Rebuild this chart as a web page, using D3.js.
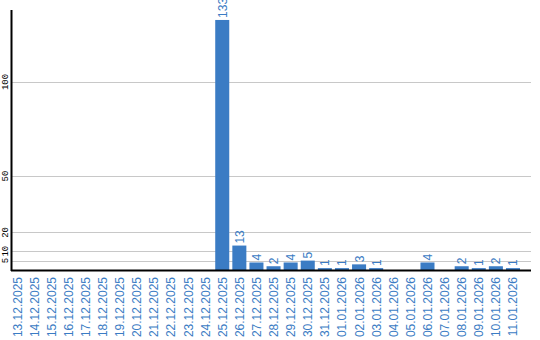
<!DOCTYPE html>
<html>
<head>
<meta charset="utf-8">
<script src="https://cdn.jsdelivr.net/npm/d3@7"></script>
<style>
  body { margin: 0; background: #fff; }
  svg { display: block; }
</style>
</head>
<body>
<svg id="chart" width="540" height="340"></svg>
<script>
var dates = ["13.12.2025", "14.12.2025", "15.12.2025", "16.12.2025", "17.12.2025", "18.12.2025",
             "19.12.2025", "20.12.2025", "21.12.2025", "22.12.2025", "23.12.2025", "24.12.2025",
             "25.12.2025", "26.12.2025", "27.12.2025", "28.12.2025", "29.12.2025", "30.12.2025",
             "31.12.2025", "01.01.2026", "02.01.2026", "03.01.2026", "04.01.2026", "05.01.2026",
             "06.01.2026", "07.01.2026", "08.01.2026", "09.01.2026", "10.01.2026", "11.01.2026"];
var counts = [0, 0, 0, 0, 0, 0, 0, 0, 0, 0, 0, 0,
              133, 13, 4, 2, 4, 5, 1, 1, 3, 1, 0, 0, 4, 0, 2, 1, 2, 1];
var yTicks = [5, 10, 20, 50, 100];

(function drawChart() {
    var svg = d3.select("#chart"),
        blue = "#3b7cc4";

    var left = 11, right = 531, top = 10, bottom = 270;

    var x = d3.scaleBand()
              .domain(dates)
              .range([10, 520])
              .paddingInner(0.18)
              .paddingOuter(0);

    var y = d3.scaleLinear()
              .domain([0, 138.3])
              .range([bottom, top]);

    // grid lines
    svg.append("g").selectAll("line")
       .data(yTicks)
       .enter().append("line")
       .attr("x1", left).attr("x2", right)
       .attr("y1", function(d) { return Math.round(y(d)) + 0.5; })
       .attr("y2", function(d) { return Math.round(y(d)) + 0.5; })
       .attr("stroke", "#c8c8c8")
       .attr("stroke-width", 1);

    // y tick labels (rotated)
    svg.append("g").selectAll("text")
       .data(yTicks)
       .enter().append("text")
       .attr("transform", function(d) { return "translate(8," + y(d) + ") rotate(-90)"; })
       .attr("text-anchor", "middle")
       .style("font-family", "'Liberation Mono', 'DejaVu Sans Mono', monospace")
       .style("font-size", "9px")
       .attr("fill", "#000")
       .text(function(d) { return d; });

    var data = dates.map(function(d, i) { return { date: d, value: counts[i] }; });

    // bars
    svg.append("g").selectAll("rect")
       .data(data.filter(function(d) { return d.value > 0; }))
       .enter().append("rect")
       .attr("x", function(d) { return x(d.date); })
       .attr("y", function(d) { return y(d.value); })
       .attr("width", x.bandwidth())
       .attr("height", function(d) { return bottom - y(d.value); })
       .attr("fill", blue);

    // value labels
    svg.append("g").selectAll("text")
       .data(data.filter(function(d) { return d.value > 0; }))
       .enter().append("text")
       .attr("transform", function(d) {
            return "translate(" + (x(d.date) + x.bandwidth() / 2 + 4.5) + "," + (y(d.value) - 2) + ") rotate(-90)";
       })
       .style("font-family", "'Liberation Sans', Arial, sans-serif")
       .style("font-size", "12px")
       .attr("fill", blue)
       .text(function(d) { return d.value; });

    // axes lines
    svg.append("line")
       .attr("x1", left + 0.5).attr("x2", left + 0.5)
       .attr("y1", top).attr("y2", bottom + 1)
       .attr("stroke", "#000").attr("stroke-width", 2);
    svg.append("line")
       .attr("x1", left).attr("x2", right)
       .attr("y1", bottom + 0.5).attr("y2", bottom + 0.5)
       .attr("stroke", "#000").attr("stroke-width", 2);

    // x labels
    svg.append("g").selectAll("text")
       .data(dates)
       .enter().append("text")
       .attr("transform", function(d) {
            return "translate(" + (x(d) + x.bandwidth() / 2 + 4.5) + "," + 277 + ") rotate(-90)";
       })
       .attr("text-anchor", "end")
       .style("font-family", "'Liberation Sans', Arial, sans-serif")
       .style("font-size", "12px")
       .attr("fill", blue)
       .text(function(d) { return d; });
}());
</script>
</body>
</html>
